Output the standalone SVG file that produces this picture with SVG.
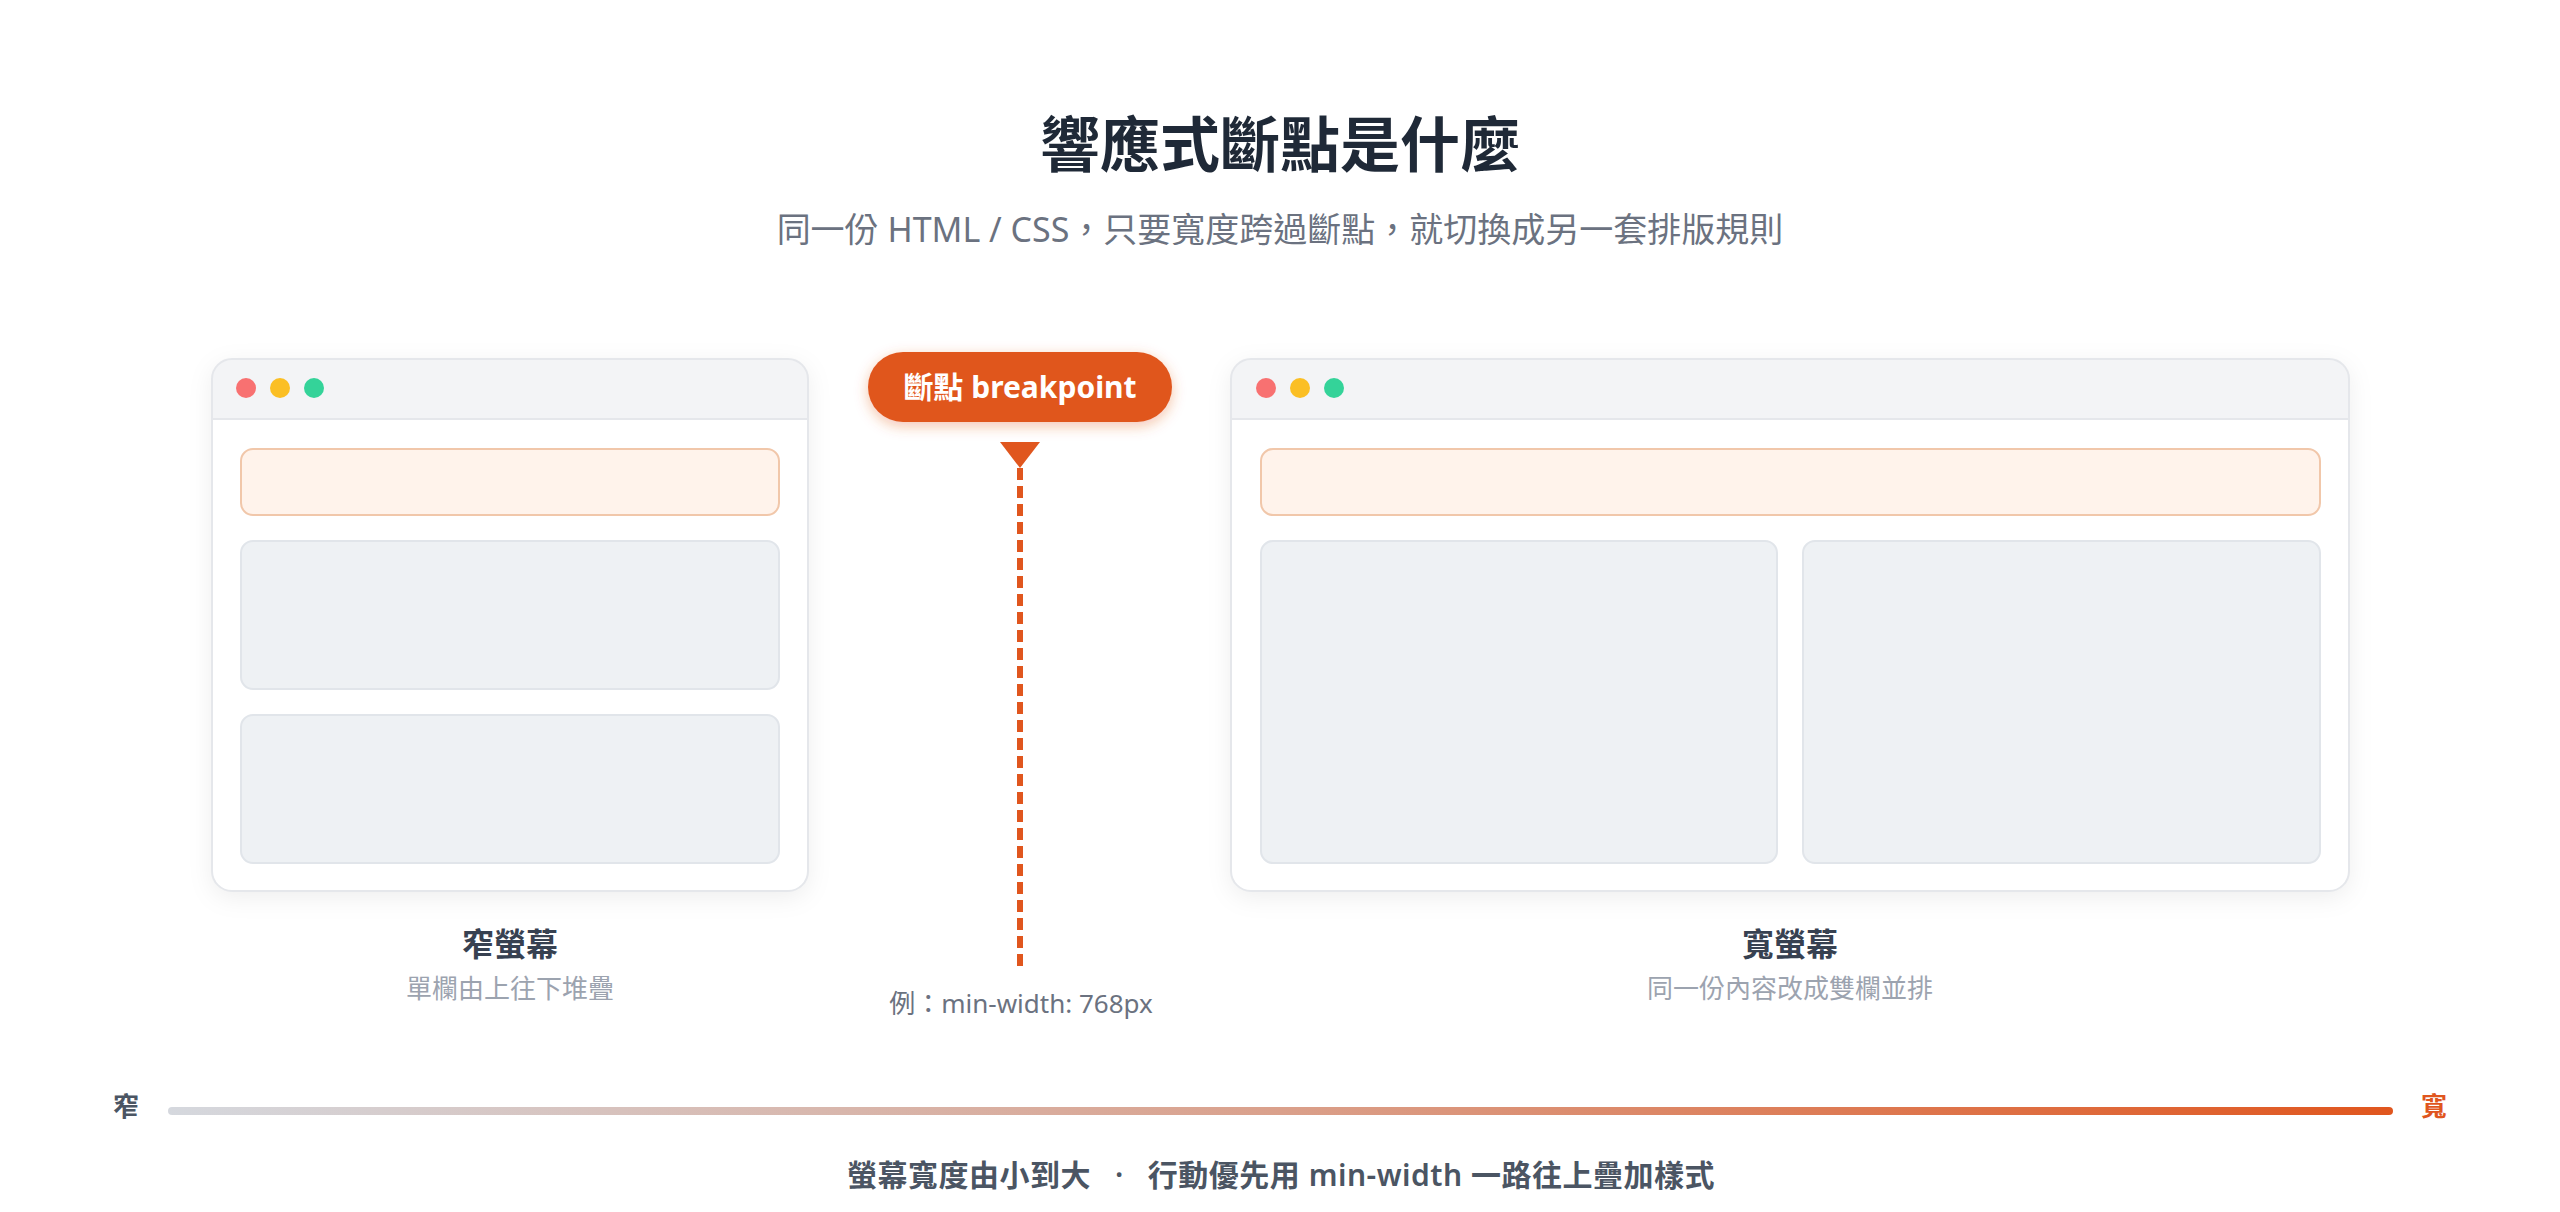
<svg xmlns="http://www.w3.org/2000/svg" width="2560" height="1212" viewBox="0 0 2560 1212">
<defs>
<style>
text{font-family:"Noto Sans","Noto Sans CJK TC",sans-serif;}
.title{font-size:60px;font-weight:700;fill:#1f2937;}
.sub{font-size:34px;fill:#6b7280;}
.lbl{font-size:32px;font-weight:700;fill:#374151;}
.desc{font-size:26px;fill:#9ca3af;}
.note{font-size:26px;fill:#6b7280;}
.cap{font-size:30px;font-weight:600;fill:#4b5563;letter-spacing:0.5px;}
.win{fill:none;stroke:#e5e7eb;stroke-width:2;}
.bar{fill:#f3f4f6;}
.sep{stroke:#e5e7eb;stroke-width:2;}
.hdr{fill:#fff3eb;stroke:#f1c7aa;stroke-width:2;}
.blk{fill:#eef1f4;stroke:#e1e5ea;stroke-width:2;}
</style>
<filter id="sh" x="-10%" y="-10%" width="120%" height="130%">
<feDropShadow dx="0" dy="6" stdDeviation="12" flood-color="#0f172a" flood-opacity="0.07"/>
</filter>
<filter id="glow" x="-20%" y="-40%" width="140%" height="200%">
<feDropShadow dx="0" dy="4" stdDeviation="7" flood-color="#e0561e" flood-opacity="0.35"/>
</filter>
<linearGradient id="grad" x1="0" y1="0" x2="1" y2="0">
<stop offset="0" stop-color="#d5d8de"/>
<stop offset="0.5" stop-color="#daa08b"/>
<stop offset="1" stop-color="#e0561e"/>
</linearGradient>
<clipPath id="cl"><rect x="212" y="359" width="596" height="532" rx="20"/></clipPath>
<clipPath id="cr"><rect x="1231" y="359" width="1118" height="532" rx="20"/></clipPath>
</defs>
<rect width="2560" height="1212" fill="#ffffff"/>

<g id="header">
<text class="title" x="1280" y="167" text-anchor="middle">響應式斷點是什麼</text>
<text class="sub" x="1280" y="242" text-anchor="middle">同一份 HTML / CSS，只要寬度跨過斷點，就切換成另一套排版規則</text>
</g>

<g id="narrow-screen">
<rect x="212" y="359" width="596" height="532" rx="20" fill="#fff" filter="url(#sh)"/>
<g clip-path="url(#cl)">
<rect class="bar" x="212" y="359" width="596" height="60"/>
</g>
<line class="sep" x1="212" y1="419" x2="808" y2="419"/>
<rect class="win" x="212" y="359" width="596" height="532" rx="20"/>
<circle cx="246" cy="388" r="10" fill="#f87171"/>
<circle cx="280" cy="388" r="10" fill="#fbbf24"/>
<circle cx="314" cy="388" r="10" fill="#34d399"/>
<rect class="hdr" x="241" y="449" width="538" height="66" rx="12"/>
<rect class="blk" x="241" y="541" width="538" height="148" rx="12"/>
<rect class="blk" x="241" y="715" width="538" height="148" rx="12"/>
<text class="lbl" x="510" y="956" text-anchor="middle">窄螢幕</text>
<text class="desc" x="510" y="998" text-anchor="middle">單欄由上往下堆疊</text>
</g>

<g id="wide-screen">
<rect x="1231" y="359" width="1118" height="532" rx="20" fill="#fff" filter="url(#sh)"/>
<g clip-path="url(#cr)">
<rect class="bar" x="1231" y="359" width="1118" height="60"/>
</g>
<line class="sep" x1="1231" y1="419" x2="2349" y2="419"/>
<rect class="win" x="1231" y="359" width="1118" height="532" rx="20"/>
<circle cx="1266" cy="388" r="10" fill="#f87171"/>
<circle cx="1300" cy="388" r="10" fill="#fbbf24"/>
<circle cx="1334" cy="388" r="10" fill="#34d399"/>
<rect class="hdr" x="1261" y="449" width="1059" height="66" rx="12"/>
<rect class="blk" x="1261" y="541" width="516" height="322" rx="12"/>
<rect class="blk" x="1803" y="541" width="517" height="322" rx="12"/>
<text class="lbl" x="1790" y="956" text-anchor="middle">寬螢幕</text>
<text class="desc" x="1790" y="998" text-anchor="middle">同一份內容改成雙欄並排</text>
</g>

<g id="breakpoint">
<rect x="868" y="352" width="304" height="70" rx="35" fill="#e0561e" filter="url(#glow)"/>
<text x="1020" y="398" text-anchor="middle" style="font-size:30px;font-weight:700;fill:#ffffff;">斷點 breakpoint</text>
<text class="note" x="1021" y="1013" text-anchor="middle">例：min-width: 768px</text>
</g>

<g id="connectors">
<polygon points="1000,442 1040,442 1020,468" fill="#e0561e"/>
<line x1="1020" y1="468" x2="1020" y2="971" stroke="#e0561e" stroke-width="6" stroke-dasharray="12 6"/>
</g>

<g id="axis">
<rect x="168" y="1107" width="2225" height="8" rx="4" fill="url(#grad)"/>
<text x="126" y="1116" text-anchor="middle" style="font-size:26px;font-weight:700;fill:#4b5563;">窄</text>
<text x="2434" y="1116" text-anchor="middle" style="font-size:26px;font-weight:700;fill:#e0561e;">寬</text>
<text class="cap" x="1281" y="1186" text-anchor="middle">螢幕寬度由小到大<tspan dx="24">·</tspan><tspan dx="24">行動優先用 min-width 一路往上疊加樣式</tspan></text>
</g>
</svg>
